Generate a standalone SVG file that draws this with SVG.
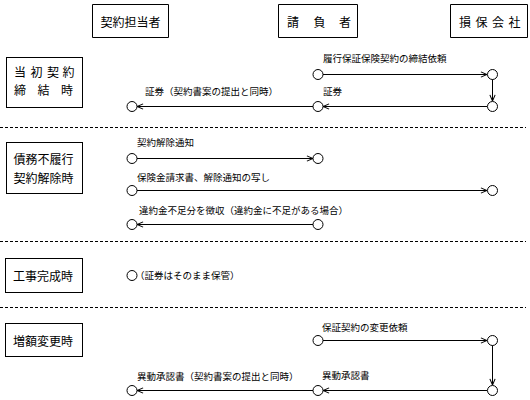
<svg xmlns="http://www.w3.org/2000/svg" width="530" height="400" viewBox="0 0 530 400">
<style>
.box{fill:#fff;stroke:#000;stroke-width:1}
.frame{fill:none;stroke:#000;stroke-width:1}
.pt{fill:#fff;stroke:#000;stroke-width:1}
.ln{fill:none;stroke:#000;stroke-width:1}
.dash{fill:none;stroke:#000;stroke-width:1;stroke-dasharray:3 2}
text{font-family:"Noto Sans CJK JP","Noto Sans CJK SC",sans-serif;fill:#000;dominant-baseline:central}
.hd{font-size:12px}
.lb{font-size:12px}
.sm{font-size:9.5px}
</style>
<defs>
<marker id="ah" viewBox="0 0 8 8" refX="8" refY="4" markerWidth="7" markerHeight="7" markerUnits="userSpaceOnUse" orient="auto">
<path d="M1,1 L8,4 L1,7" fill="none" stroke="#000" stroke-width="1.2"/>
</marker>
</defs>
<rect width="530" height="400" fill="#fff"/>
<g id="separators">
<line class="dash" x1="0" y1="127.5" x2="526" y2="127.5"/>
<line class="dash" x1="0" y1="241.5" x2="526" y2="241.5"/>
<line class="dash" x1="0" y1="307.5" x2="526" y2="307.5"/>
</g>
<g id="label-tosho">
<rect class="box" x="6.5" y="57.5" width="76" height="50"/>
<text class="lb" y="71"><tspan x="14">当</tspan><tspan x="30.5">初</tspan><tspan x="47">契</tspan><tspan x="62.5">約</tspan></text>
<text class="lb" y="89"><tspan x="14">締</tspan><tspan x="37.5">結</tspan><tspan x="61">時</tspan></text>
</g>
<g id="label-saimu">
<rect class="box" x="6.5" y="142.5" width="76" height="51"/>
<text class="lb" x="43.5" y="158" text-anchor="middle">債務不履行</text>
<text class="lb" x="43.5" y="177" text-anchor="middle">契約解除時</text>
</g>
<g id="label-koji">
<rect class="box" x="5.5" y="258.5" width="77" height="34"/>
<text class="lb" x="43" y="275" text-anchor="middle">工事完成時</text>
</g>
<g id="label-zogaku">
<rect class="box" x="5.5" y="323.5" width="77" height="33"/>
<text class="lb" x="43" y="340" text-anchor="middle">増額変更時</text>
</g>
<g id="connectors">
<line class="ln" x1="323" y1="74.5" x2="487" y2="74.5" marker-end="url(#ah)"/>
<line class="ln" x1="492.5" y1="79" x2="492.5" y2="101" marker-end="url(#ah)"/>
<line class="ln" x1="487" y1="106.5" x2="323" y2="106.5" marker-end="url(#ah)"/>
<line class="ln" x1="313" y1="106.5" x2="137" y2="106.5" marker-end="url(#ah)"/>
<line class="ln" x1="137" y1="158.5" x2="313" y2="158.5" marker-end="url(#ah)"/>
<line class="ln" x1="137" y1="190.5" x2="487" y2="190.5" marker-end="url(#ah)"/>
<line class="ln" x1="313" y1="224.5" x2="137" y2="224.5" marker-end="url(#ah)"/>
<line class="ln" x1="323" y1="340.5" x2="487" y2="340.5" marker-end="url(#ah)"/>
<line class="ln" x1="492.5" y1="345" x2="492.5" y2="385" marker-end="url(#ah)"/>
<line class="ln" x1="487" y1="390.5" x2="323" y2="390.5" marker-end="url(#ah)"/>
<line class="ln" x1="313" y1="390.5" x2="137" y2="390.5" marker-end="url(#ah)"/>
</g>
<g id="points">
<circle class="pt" cx="318" cy="74.5" r="5"/>
<circle class="pt" cx="492.5" cy="74.5" r="5"/>
<circle class="pt" cx="492.5" cy="106.5" r="5"/>
<circle class="pt" cx="318" cy="106.5" r="5"/>
<circle class="pt" cx="132" cy="106.5" r="5"/>
<circle class="pt" cx="132" cy="158.5" r="5"/>
<circle class="pt" cx="318" cy="158.5" r="5"/>
<circle class="pt" cx="132" cy="190.5" r="5"/>
<circle class="pt" cx="492.5" cy="190.5" r="5"/>
<circle class="pt" cx="132" cy="224.5" r="5"/>
<circle class="pt" cx="318" cy="224.5" r="5"/>
<circle class="pt" cx="132" cy="275.5" r="5"/>
<circle class="pt" cx="318" cy="340.5" r="5"/>
<circle class="pt" cx="492.5" cy="340.5" r="5"/>
<circle class="pt" cx="492.5" cy="390.5" r="5"/>
<circle class="pt" cx="318" cy="390.5" r="5"/>
<circle class="pt" cx="132" cy="390.5" r="5"/>
</g>
<g id="labels">
<text class="sm" x="323" y="58">履行保証保険契約の締結依頼</text>
<text class="sm" x="323" y="91">証券</text>
<text class="sm" x="145" y="91">証券（契約書案の提出と同時）</text>
<text class="sm" x="137" y="142">契約解除通知</text>
<text class="sm" x="137" y="177">保険金請求書、解除通知の写し</text>
<text class="sm" x="139" y="210">違約金不足分を徴収（違約金に不足がある場合）</text>
<text class="sm" x="135" y="275">（証券はそのまま保管）</text>
<text class="sm" x="322" y="327">保証契約の変更依頼</text>
<text class="sm" x="322" y="375">異動承認書</text>
<text class="sm" x="137" y="376">異動承認書（契約書案の提出と同時）</text>
</g>
<g id="header-keiyaku">
<text class="hd" x="130.5" y="21" text-anchor="middle">契約担当者</text>
<polyline class="frame" points="92.5,4.5 168.5,4.5 168.5,37.5 92.5,37.5 92.5,4.5"/>
</g>
<g id="header-ukeoi">
<text class="hd" y="21"><tspan x="287">請</tspan><tspan x="313.5">負</tspan><tspan x="339">者</tspan></text>
<polyline class="frame" points="278.5,4.5 357.5,4.5 357.5,37.5 278.5,37.5 278.5,4.5"/>
</g>
<g id="header-sonpo">
<text class="hd" y="21"><tspan x="459">損</tspan><tspan x="475.5">保</tspan><tspan x="492">会</tspan><tspan x="508.5">社</tspan></text>
<polyline class="frame" points="450.5,4.5 527.5,4.5 527.5,37.5 450.5,37.5 450.5,4.5"/>
</g>
</svg>
